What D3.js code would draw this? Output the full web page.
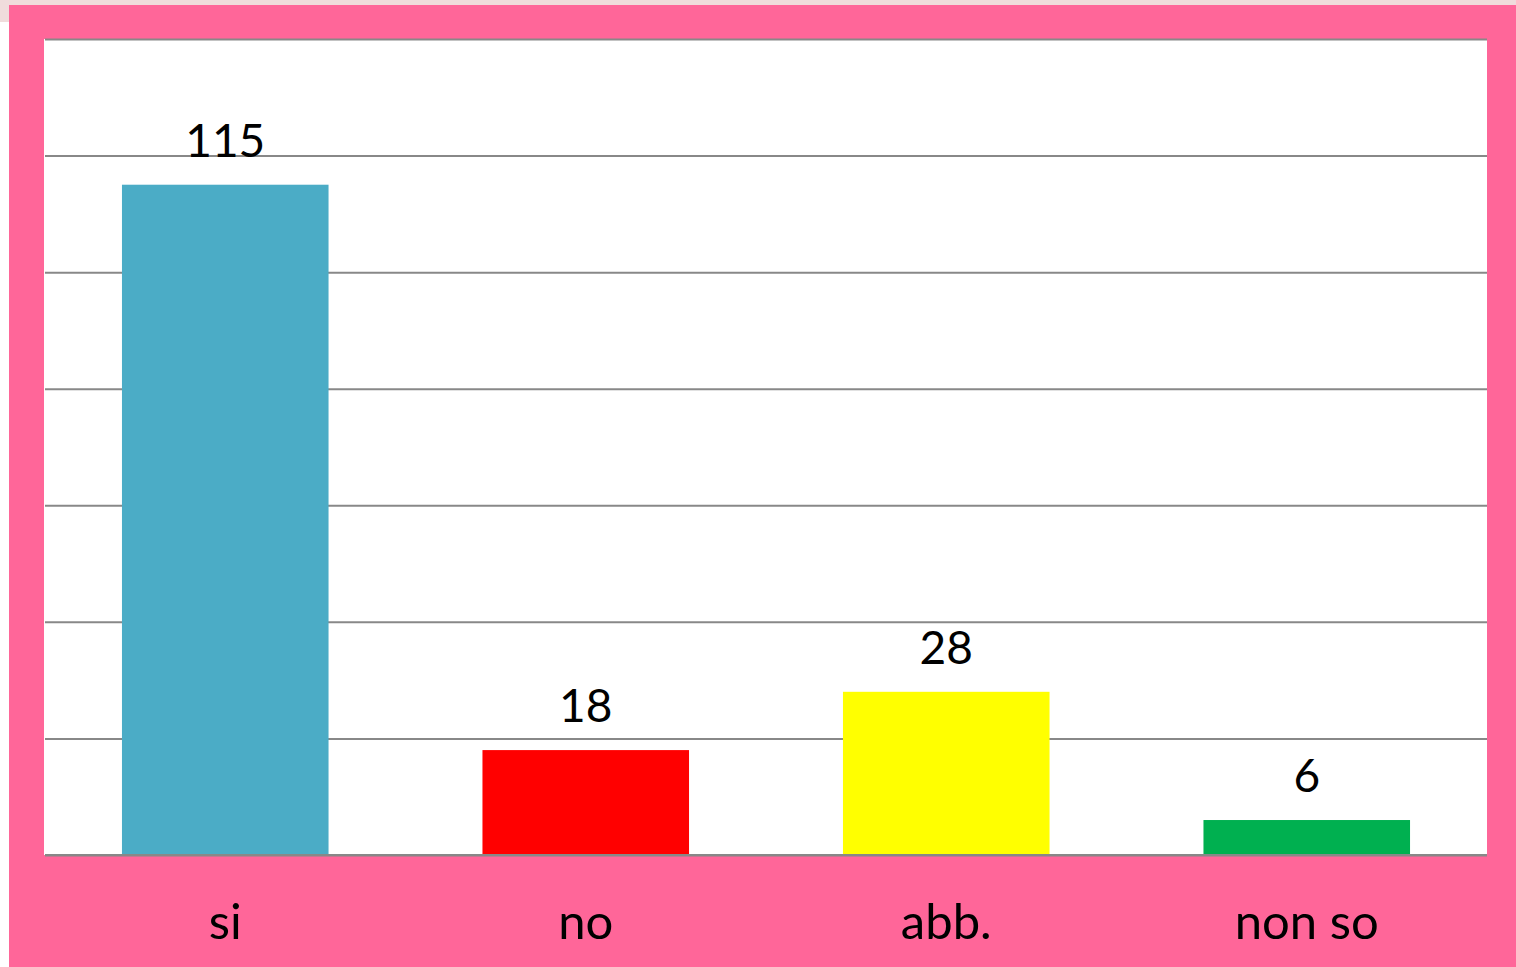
<!DOCTYPE html>
<html><head><meta charset="utf-8">
<script src="https://cdn.jsdelivr.net/npm/d3@7"></script>
<style>html,body{margin:0;padding:0;background:#fff;overflow:hidden}</style>
</head><body>
<svg id="c" width="1516" height="967"></svg>
<script>
const categories = ["si", "no", "abb.", "non so"];
const values = [115, 18, 28, 6];
const colors = ["#4bacc6", "#ff0000", "#ffff00", "#00b050"];
const yTicks = [0, 20, 40, 60, 80, 100, 120, 140];

(function(){
const svg = d3.select("#c");
svg.append("rect").attr("x",0).attr("y",0).attr("width",1516).attr("height",22).attr("fill","#f0dcdc");
svg.append("rect").attr("x",9).attr("y",5).attr("width",1507).attr("height",962).attr("fill","#ff6699");

const pl = 45, pr = 1487, pt = 39, pb = 855;
svg.append("rect").attr("x",pl-1).attr("y",pt).attr("width",pr-pl+1).attr("height",pb-pt).attr("fill","#fff");

const x = d3.scaleBand().domain(categories).range([pl, pr]).paddingInner(0.427).paddingOuter(0.2135);
const y = d3.scaleLinear().domain([0, 140]).range([pb, pt]);

const grid = svg.append("g").attr("transform",`translate(${pl},0)`)
  .call(d3.axisLeft(y).tickValues(yTicks).tickSize(-(pr-pl)).tickFormat(""));
grid.select(".domain").remove();
grid.selectAll(".tick line").attr("stroke","#888").attr("stroke-width",2);

svg.selectAll("rect.bar").data(values).enter().append("rect").attr("class","bar")
  .attr("x",(d,i)=>x(categories[i])).attr("width",x.bandwidth())
  .attr("y",d=>y(d)).attr("height",d=>y(0)-y(d)).attr("fill",(d,i)=>colors[i]);

svg.append("line").attr("x1",pl).attr("x2",pr).attr("y1",y(0)).attr("y2",y(0)).attr("stroke","#888").attr("stroke-width",2);

svg.selectAll("text.val").data(values).enter().append("text").attr("class","val")
  .attr("x",(d,i)=>x(categories[i])+x.bandwidth()/2).attr("y",d=>y(d)-28)
  .attr("text-anchor","middle").attr("font-family","Lato, 'Open Sans', sans-serif").attr("font-size",46).attr("fill","#000")
  .text(d=>d);

const xa = svg.append("g").attr("transform",`translate(0,${pb})`)
  .call(d3.axisBottom(x).tickSize(0).tickPadding(0));
xa.select(".domain").remove();
xa.selectAll("text").attr("y",84).attr("dy",null).attr("font-family","Lato, 'Open Sans', sans-serif").attr("font-size",49).attr("fill","#000");
})();
</script>
</body></html>
